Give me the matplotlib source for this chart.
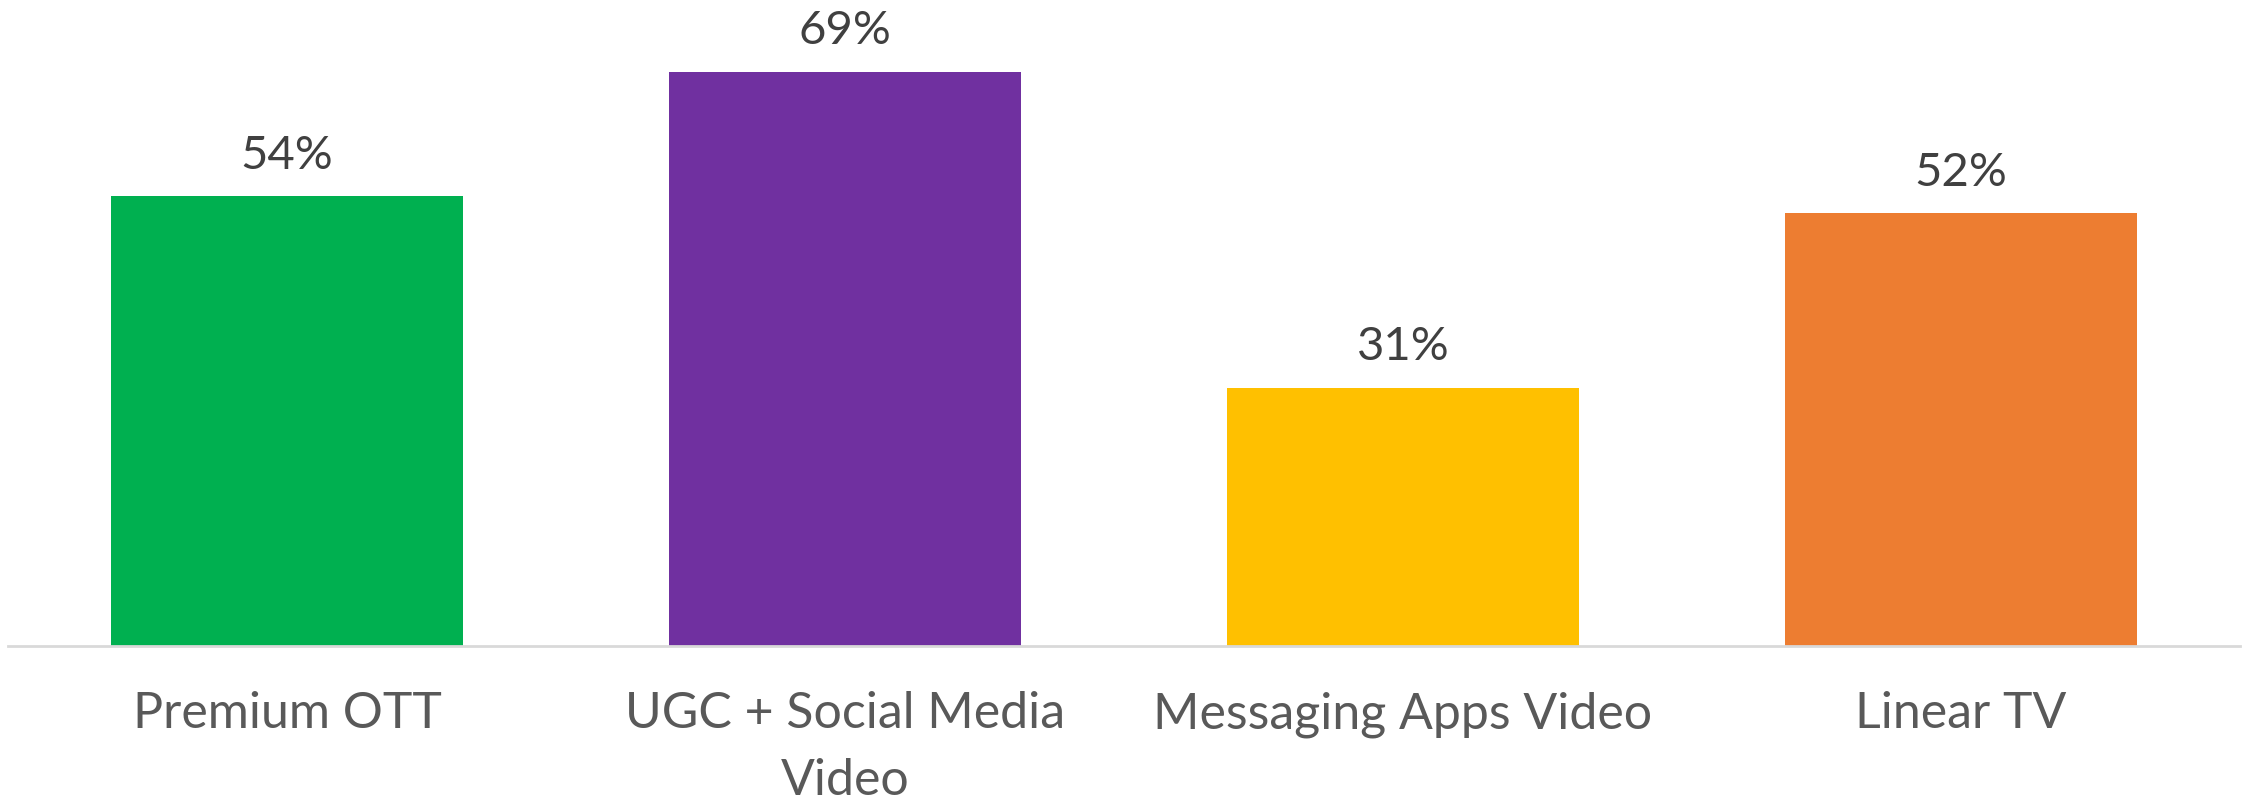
import numpy as np
import matplotlib.pyplot as plt

categories = ['Premium OTT', 'UGC + Social Media\nVideo', 'Messaging Apps Video', 'Linear TV']
values = [54, 69, 31, 52]
colors = ['#00B050', '#7030A0', '#FFC000', '#ED7D31']

plt.rcParams['font.family'] = ['Lato', 'DejaVu Sans']

fig = plt.figure(figsize=(22.49, 8), dpi=100)
ax = fig.add_axes([0.0036, 0.193, 0.9924, 0.807])

x = np.arange(len(categories))
bars = ax.bar(x, values, width=0.63, color=colors, zorder=2)

for xi, v in zip(x, values):
    ax.annotate('{}%'.format(v), (xi, v), xytext=(0, 14), textcoords='offset points',
                ha='center', va='bottom', fontsize=34, color='#404040')

ax.set_xlim(-0.5, 3.5)
ax.set_ylim(0, 77.6)
ax.set_xticks(x)
ax.set_xticklabels(categories, fontsize=36, color='#595959', linespacing=1.55)
ax.tick_params(axis='x', length=0, pad=33)
ax.set_yticks([])
for s in ['top', 'left', 'right']:
    ax.spines[s].set_visible(False)
ax.spines['bottom'].set_color('#d9d9d9')
ax.spines['bottom'].set_linewidth(2)

fig.savefig('out.png', dpi=100)
